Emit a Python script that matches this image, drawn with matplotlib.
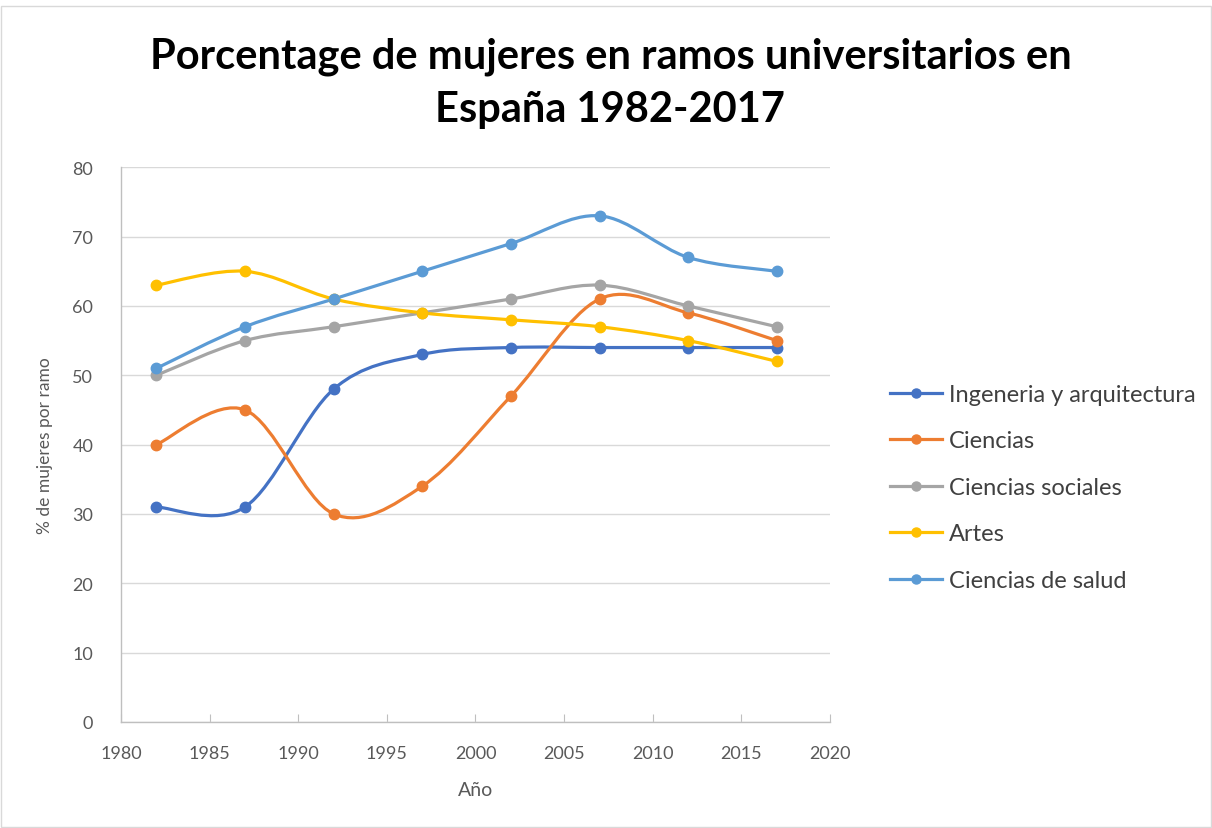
import matplotlib.pyplot as plt
from matplotlib.path import Path
from matplotlib.patches import PathPatch
from matplotlib.lines import Line2D
import numpy as np

plt.rcParams['font.family'] = ['Lato', 'DejaVu Sans']

years = [1982, 1987, 1992, 1997, 2002, 2007, 2012, 2017]
ingenieria = [31, 31, 48, 53, 54, 54, 54, 54]
ciencias = [40, 45, 30, 34, 47, 61, 59, 55]
sociales = [50, 55, 57, 59, 61, 63, 60, 57]
artes = [63, 65, 61, 59, 58, 57, 55, 52]
salud = [51, 57, 61, 65, 69, 73, 67, 65]

series = [
    ('Ingeneria y arquitectura', ingenieria, '#4472c4'),
    ('Ciencias', ciencias, '#ed7d31'),
    ('Ciencias sociales', sociales, '#a5a5a5'),
    ('Artes', artes, '#ffc000'),
    ('Ciencias de salud', salud, '#5b9bd5'),
]


def smooth_path(x, y):
    # catmull-rom style bezier, like excel's smoothed line
    p = np.column_stack([x, y]).astype(float)
    verts = [p[0]]
    codes = [Path.MOVETO]
    n = len(p)
    for i in range(n - 1):
        p0 = p[i - 1] if i > 0 else p[i]
        p3 = p[i + 2] if i + 2 < n else p[i + 1]
        c1 = p[i] + (p[i + 1] - p0) / 6
        c2 = p[i + 1] - (p3 - p[i]) / 6
        verts += [c1, c2, p[i + 1]]
        codes += [Path.CURVE4] * 3
    return Path(verts, codes)


fig = plt.figure(figsize=(12.12, 8.29), dpi=100)
ax = fig.add_axes([0.0998, 0.128, 0.585, 0.669])

handles = []
for name, vals, col in series:
    patch = PathPatch(smooth_path(years, vals), facecolor='none', edgecolor=col,
                      lw=2.3, capstyle='round', joinstyle='round', zorder=3)
    ax.add_patch(patch)
    ax.plot(years, vals, 'o', color=col, ms=7.5, zorder=4)
    handles.append(Line2D([], [], color=col, lw=2.3, marker='o', ms=6.5))

ax.set_xlim(1980, 2020)
ax.set_ylim(0, 80)
ax.set_xticks(range(1980, 2021, 5))
ax.set_yticks(range(0, 81, 10))
ax.grid(axis='y', color='#d9d9d9', lw=1)
ax.set_axisbelow(True)
for s in ['top', 'right']:
    ax.spines[s].set_visible(False)
for s in ['left', 'bottom']:
    ax.spines[s].set_color('#bfbfbf')
    ax.spines[s].set_linewidth(1)
ax.tick_params(axis='x', direction='in', length=6, color='#bfbfbf', labelsize=13,
               labelcolor='#595959', pad=17)
ax.tick_params(axis='y', length=0, labelsize=13, labelcolor='#595959', pad=20)
ax.set_xlabel('Año', fontsize=14, color='#595959', labelpad=14)
ax.set_ylabel('% de mujeres por ramo', fontsize=12.5, color='#595959', labelpad=14)

fig.text(0.504, 1 - 68 / 829, 'Porcentage de mujeres en ramos universitarios en',
         ha='center', va='baseline', fontsize=30, fontweight='bold')
fig.text(0.503, 1 - 122 / 829, 'España 1982-2017',
         ha='center', va='baseline', fontsize=30, fontweight='bold')

fig.legend(handles, [s[0] for s in series], loc='center left',
           bbox_to_anchor=(0.734, 0.411), frameon=False, fontsize=17,
           labelspacing=1.08, handlelength=2.2, handletextpad=0.3, borderpad=0,
           borderaxespad=0, labelcolor='#404040')

fig.patches.append(plt.Rectangle((0.001, 0.001), 0.998, 0.99, transform=fig.transFigure,
                                 fill=False, edgecolor='#d9d9d9', lw=1))

fig.savefig('out.png', dpi=100)
